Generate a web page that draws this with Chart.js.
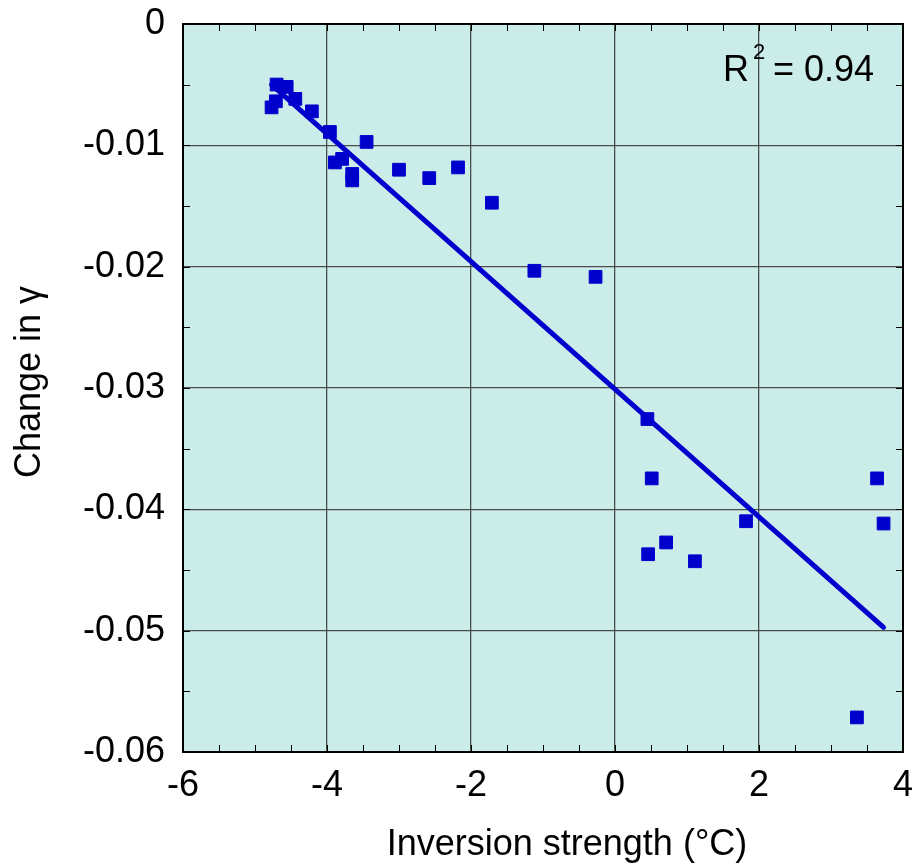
<!DOCTYPE html>
<html>
<head>
<meta charset="utf-8">
<style>
  html, body { margin: 0; padding: 0; background: #ffffff; }
  #wrap { width: 913px; height: 865px; }
</style>
<script src="https://cdn.jsdelivr.net/npm/chart.js@4/dist/chart.umd.min.js"></script>
</head>
<body>
<div id="wrap"><canvas id="c" width="913" height="865"></canvas></div>
<script>
// Inversion strength (°C) for each run
const inversion = [
  -4.77, -4.71, -4.70, -4.56, -4.44, -4.21, -3.96, -3.89, -3.79, -3.65,
  -3.65, -3.45, -3.00, -2.58, -2.18, -1.71, -1.12, -0.27, 0.45, 0.51,
  0.46, 0.71, 1.11, 1.82, 3.36, 3.64, 3.73
];
// Change in gamma for each run
const gammaChange = [
  -0.00687, -0.00637, -0.00499, -0.00518, -0.00617, -0.00720, -0.00890, -0.01141, -0.01112, -0.01236,
  -0.01289, -0.00972, -0.01201, -0.01270, -0.01182, -0.01473, -0.02034, -0.02084, -0.03256, -0.03745,
  -0.04370, -0.04273, -0.04428, -0.04098, -0.05715, -0.03745, -0.04117
];
// Least-squares fit, drawn between its two end points
const fitX = [-4.77, 3.73];
const fitY = [-0.00500, -0.04972];
const rSquared = '0.94';

// Axis ranges and tick steps
const xRange = [-6, 4];
const yRange = [-0.06, 0];
const xMajorStep = 2, xMinorStep = 0.5;
const yMajorStep = 0.01, yMinorStep = 0.005;

const xTitle = 'Inversion strength (°C)';
const yTitle = 'Change in γ';

const FONT = '"Liberation Sans", Arial, Helvetica, sans-serif';
const BLUE = '#0000cc';

const pts = inversion.map((x, i) => ({ x: x, y: gammaChange[i] }));
const fitPts = fitX.map((x, i) => ({ x: x, y: fitY[i] }));

// Fill the plotting area before anything else is drawn
const areaFill = {
  id: 'areaFill',
  beforeDraw(chart) {
    const { ctx, chartArea: a } = chart;
    ctx.save();
    ctx.fillStyle = '#cbede9';
    ctx.fillRect(a.left, a.top, a.right - a.left, a.bottom - a.top);
    ctx.restore();
  }
};

// Frame, inward minor ticks on all four sides, axis titles and the R² note
const frameAndText = {
  id: 'frameAndText',
  afterDraw(chart) {
    const { ctx, chartArea: a } = chart;
    const xs = chart.scales.x, ys = chart.scales.y;
    ctx.save();
    ctx.strokeStyle = '#000';
    ctx.lineWidth = 1;
    const tl = 7;
    ctx.beginPath();
    for (let v = xRange[0]; v <= xRange[1] + 1e-9; v += xMinorStep) {
      const px = Math.round(xs.getPixelForValue(v)) + 0.5;
      ctx.moveTo(px, a.bottom); ctx.lineTo(px, a.bottom - tl);
      ctx.moveTo(px, a.top); ctx.lineTo(px, a.top + tl);
    }
    for (let v = yRange[0]; v <= yRange[1] + 1e-9; v += yMinorStep) {
      const py = Math.round(ys.getPixelForValue(v)) + 0.5;
      ctx.moveTo(a.left, py); ctx.lineTo(a.left + tl, py);
      ctx.moveTo(a.right, py); ctx.lineTo(a.right - tl, py);
    }
    ctx.stroke();

    ctx.lineWidth = 2;
    ctx.strokeRect(a.left, a.top, a.right - a.left, a.bottom - a.top);

    ctx.fillStyle = '#000';
    ctx.font = '36px ' + FONT;
    ctx.textAlign = 'center';
    ctx.textBaseline = 'alphabetic';
    ctx.fillText(xTitle, (a.left + a.right) / 2 + 24, 855);

    ctx.save();
    ctx.translate(40, (a.top + a.bottom) / 2 - 6);
    ctx.rotate(-Math.PI / 2);
    ctx.fillText(yTitle, 0, 0);
    ctx.restore();

    // R² annotation in the upper right corner
    ctx.textAlign = 'left';
    const rx = a.right - 180, ry = a.top + 57;
    ctx.font = '36px ' + FONT;
    ctx.fillText('R', rx, ry);
    const rw = ctx.measureText('R').width;
    ctx.font = '22px ' + FONT;
    ctx.fillText('2', rx + rw + 4, ry - 22);
    ctx.font = '36px ' + FONT;
    ctx.fillText('= ' + rSquared, rx + rw + 24, ry);
    ctx.restore();
  }
};

new Chart(document.getElementById('c'), {
  type: 'scatter',
  data: {
    datasets: [
      {
        type: 'line',
        data: fitPts,
        borderColor: BLUE,
        borderWidth: 5,
        borderCapStyle: 'round',
        pointRadius: 0,
        fill: false,
        tension: 0,
        order: 2
      },
      {
        data: pts,
        pointStyle: 'rect',
        pointRadius: 9,
        pointHoverRadius: 9,
        backgroundColor: BLUE,
        borderColor: BLUE,
        borderWidth: 1,
        order: 1
      }
    ]
  },
  options: {
    responsive: false,
    animation: false,
    events: [],
    layout: { padding: { top: 24, right: 10, left: 0, bottom: 0 } },
    plugins: {
      legend: { display: false },
      tooltip: { enabled: false }
    },
    scales: {
      x: {
        type: 'linear',
        min: xRange[0], max: xRange[1],
        afterFit(s) { s.height = 113; s.paddingLeft = 0; s.paddingRight = 0; },
        border: { display: false },
        grid: {
          color: (c) => (c.tick && (c.tick.value === xRange[0] || c.tick.value === xRange[1])) ? 'rgba(0,0,0,0)' : 'rgba(60,60,60,0.9)',
          lineWidth: 1.3,
          drawTicks: false
        },
        ticks: {
          stepSize: xMajorStep,
          padding: 12,
          color: '#000',
          font: { family: FONT, size: 36 },
          maxRotation: 0
        },
        title: { display: false }
      },
      y: {
        type: 'linear',
        min: yRange[0], max: yRange[1],
        afterFit(s) { s.width = 183; s.paddingTop = 0; s.paddingBottom = 0; },
        border: { display: false },
        grid: {
          color: (c) => (c.tick && (Math.abs(c.tick.value - yRange[0]) < 1e-9 || Math.abs(c.tick.value - yRange[1]) < 1e-9)) ? 'rgba(0,0,0,0)' : 'rgba(60,60,60,0.9)',
          lineWidth: 1.3,
          drawTicks: false
        },
        ticks: {
          stepSize: yMajorStep,
          padding: 18,
          color: '#000',
          font: { family: FONT, size: 36 },
          callback: (v) => (Math.abs(v) < 1e-12 ? '0' : String(Math.round(v * 100) / 100))
        },
        title: { display: false }
      }
    }
  },
  plugins: [areaFill, frameAndText]
});
</script>
</body>
</html>
